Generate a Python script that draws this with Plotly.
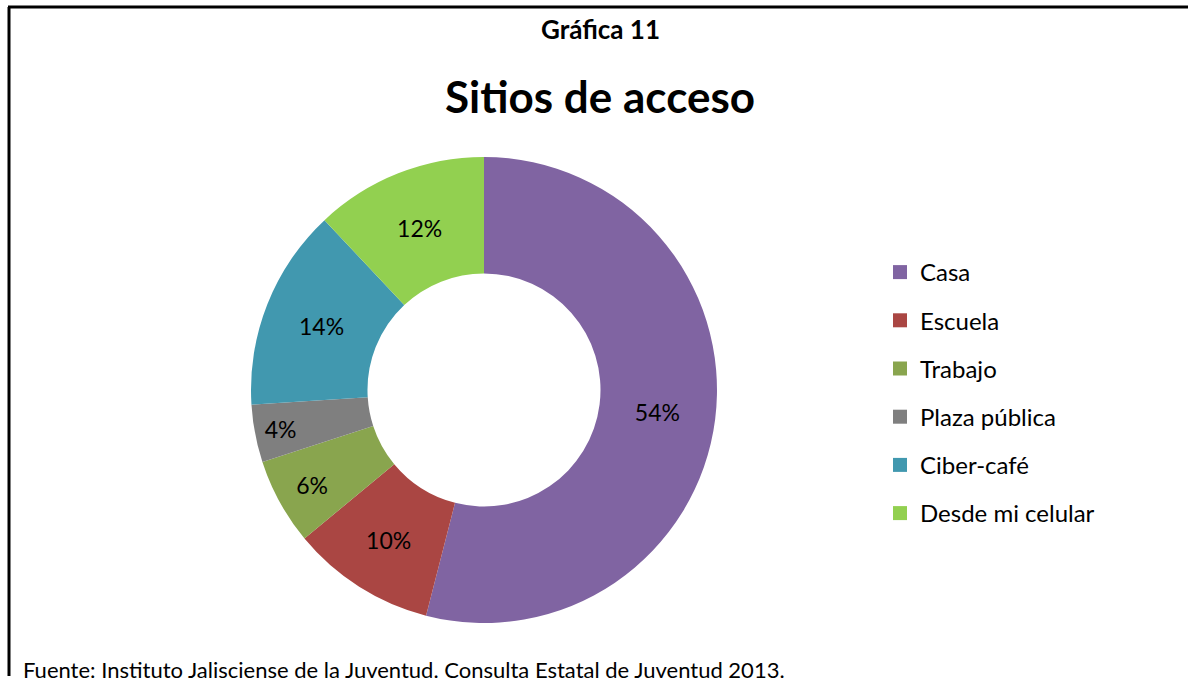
import plotly.graph_objects as go

FONT = "Lato"

sitios = ["Casa", "Escuela", "Trabajo", "Plaza pública", "Ciber-café", "Desde mi celular"]
porcentajes = [54, 10, 6, 4, 14, 12]
colores = ["#8064A2", "#AA4643", "#89A54E", "#7F7F7F", "#4198AF", "#92D050"]

W, H = 1188, 683

fig = go.Figure()

fig.add_trace(
    go.Pie(
        labels=sitios,
        values=porcentajes,
        marker=dict(colors=colores, line=dict(width=0)),
        hole=0.5,
        sort=False,
        direction="clockwise",
        rotation=0,
        textinfo="percent",
        texttemplate="%{percent:.0%}",
        textposition="inside",
        insidetextorientation="horizontal",
        textfont=dict(family=FONT, size=23, color="black"),
        showlegend=False,
        domain=dict(x=[251 / W, 717 / W], y=[(H - 623) / H, (H - 157) / H]),
    )
)

# legend entries as square markers, one group each so the gap can be set
for nombre, color in zip(sitios, colores):
    fig.add_trace(
        go.Scatter(
            x=[None],
            y=[None],
            mode="markers",
            name=nombre,
            legendgroup=nombre,
            marker=dict(symbol="square", size=14, color=color),
        )
    )

fig.update_layout(
    width=W,
    height=H,
    margin=dict(l=0, r=0, t=0, b=0),
    paper_bgcolor="white",
    plot_bgcolor="white",
    xaxis=dict(visible=False),
    yaxis=dict(visible=False),
    legend=dict(
        x=880 / W,
        y=(H - 250) / H,
        xanchor="left",
        yanchor="top",
        font=dict(family=FONT, size=24, color="black"),
        tracegroupgap=14,
        itemwidth=30,
        bgcolor="rgba(0,0,0,0)",
    ),
    annotations=[
        dict(text="<b>Gráfica 11</b>", x=600 / W, y=(H - 29) / H, xref="paper", yref="paper",
             yanchor="middle", showarrow=False, font=dict(family=FONT, size=26, color="black")),
        dict(text="<b>Sitios de acceso</b>", x=600 / W, y=(H - 96) / H, xref="paper", yref="paper",
             yanchor="middle", showarrow=False, font=dict(family=FONT, size=44, color="black")),
        dict(text="Fuente: Instituto Jalisciense de la Juventud. Consulta Estatal de Juventud 2013.",
             x=21 / W, y=(H - 669) / H, xref="paper", yref="paper", xanchor="left",
             yanchor="middle", showarrow=False, font=dict(family=FONT, size=22, color="black")),
    ],
    shapes=[
        dict(type="line", xref="paper", yref="paper", x0=8 / W, x1=1, y0=(H - 7) / H, y1=(H - 7) / H,
             line=dict(color="black", width=3)),
        dict(type="line", xref="paper", yref="paper", x0=9 / W, x1=9 / W, y0=(H - 7) / H, y1=(H - 676) / H,
             line=dict(color="black", width=3)),
    ],
)

fig.write_html(
    "out.html",
    config={"displayModeBar": False},
    post_script="document.body.style.margin='0';",
)
